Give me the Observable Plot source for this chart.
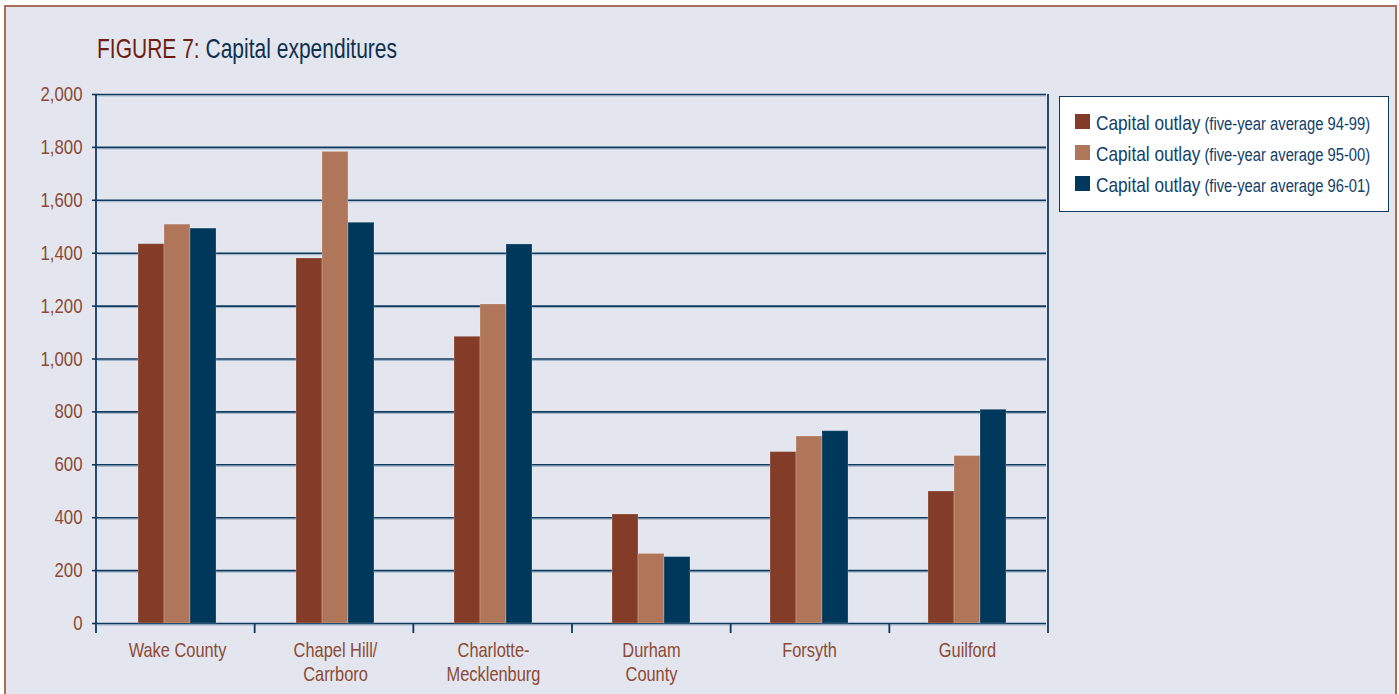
<!DOCTYPE html>
<html>
<head>
<meta charset="utf-8">
<script src="https://cdn.jsdelivr.net/npm/d3@7"></script>
<script src="https://cdn.jsdelivr.net/npm/@observablehq/plot@0.6"></script>
<style>
  html, body { margin: 0; padding: 0; background: #ffffff; overflow: hidden; }
  body { width: 1399px; height: 694px; position: relative;
         font-family: "Liberation Sans", Arial, sans-serif; }
  #panel { position: absolute; left: 4px; top: 5px; width: 1393px; height: 720px;
           background: #e3e6ee; border: 2px solid #a86e57; box-sizing: border-box; }
  #title { position: absolute; left: 97px; top: 35px; font-size: 28px; line-height: 28px;
           color: #10304f; white-space: nowrap; transform: scaleX(0.75); transform-origin: 0 0; }
  #title .fig { color: #6e1e12; }
  #chart { position: absolute; left: 0; top: 80px; }
  #legend { position: absolute; left: 1059px; top: 96px; width: 330px; height: 116px;
            box-sizing: border-box; background: #ffffff; border: 1.5px solid #0e3a5f;
            padding: 17px 0 0 15px; }
  .row { position: relative; height: 31px; color: #10406a; white-space: nowrap; }
  .sw { position: absolute; left: 0; top: 0; width: 15px; height: 15px; }
  .txt { position: absolute; left: 21px; bottom: 12px; line-height: 1;
         transform: scaleX(0.82); transform-origin: 0 100%; }
  .main { font-size: 21px; }
  .sub { font-size: 18px; margin-left: 5px; }
</style>
</head>
<body>
<div id="panel"></div>
<div id="title"><span class="fig">FIGURE 7:</span> Capital expenditures</div>
<div id="chart"></div>
<div id="legend"></div>
<script>
// Counties compared, with their axis labels (line breaks as printed)
const counties = ["Wake County", "Chapel Hill/Carrboro", "Charlotte-Mecklenburg", "Durham County", "Forsyth", "Guilford"];
const countyLabels = ["Wake County", "Chapel Hill/\nCarrboro", "Charlotte-\nMecklenburg", "Durham\nCounty", "Forsyth", "Guilford"];

// Five-year averaging periods
const periods = ["94-99", "95-00", "96-01"];

// Capital outlay, five-year averages, per county
const outlay9499 = [1434, 1380, 1084, 412, 648, 499];
const outlay9500 = [1508, 1783, 1206, 263, 707, 633];
const outlay9601 = [1493, 1515, 1433, 251, 727, 808];

// Value axis ticks
const yTicks = [0, 200, 400, 600, 800, 1000, 1200, 1400, 1600, 1800, 2000];

const periodColors = ["#833c28", "#b07659", "#00385c"];

const seriesValues = [outlay9499, outlay9500, outlay9601];
const rows = [];
counties.forEach((c, i) => {
  periods.forEach((p, j) => rows.push({county: c, period: p, value: seriesValues[j][i]}));
});

const labelOf = new Map(counties.map((c, i) => [c, countyLabels[i]]));

const navy = "#0e3a5f";
const brown = "#8c4a36";
const W = 1060, H = 614;
const narrow = 0.82; // horizontal squeeze giving a condensed face

const plot = Plot.plot({
  width: W,
  height: H,
  marginTop: 14,
  marginLeft: 96,
  marginRight: 12,
  marginBottom: 71,
  style: {
    background: "transparent",
    fontFamily: '"Liberation Sans", Arial, sans-serif',
    fontSize: "20px"
  },
  fx: {domain: counties, padding: 0},
  x: {domain: periods, paddingInner: 0, paddingOuter: 1.47, axis: null},
  y: {domain: [0, 2000]},
  color: {domain: periods, range: periodColors},
  marks: [
    Plot.gridY(yTicks, {stroke: "#9db1c6", strokeOpacity: 1, strokeWidth: 1, dy: 1.5}),
    Plot.gridY(yTicks, {stroke: navy, strokeOpacity: 1, strokeWidth: 1.6}),
    Plot.barY(rows, {
      fx: "county", x: "period", y: "value", fill: "period",
      stroke: "#ffffff", strokeOpacity: 0.22, strokeWidth: 1, inset: 0
    }),
    Plot.axisY({
      ticks: yTicks, tickFormat: d3.format(","), tickSize: 6, tickPadding: 10,
      stroke: navy, strokeWidth: 1.6, fill: brown, fontSize: 20.5, label: null
    }),
    Plot.axisFx({
      anchor: "bottom", tickSize: 0, tickPadding: 16, label: null,
      tickFormat: d => labelOf.get(d), fill: brown, fontSize: 20, lineHeight: 1.22
    })
  ]
});

document.getElementById("chart").appendChild(plot);

const svg = d3.select(plot);

// Condense tick label text around each label's own anchor point
svg.selectAll('g[aria-label$="tick label"] text').each(function() {
  const t = this.getAttribute("transform") || "";
  const x = +this.getAttribute("x") || 0, y = +this.getAttribute("y") || 0;
  this.setAttribute("transform", `${t} translate(${x},${y}) scale(${narrow},1) translate(${-x},${-y})`);
});

// Frame lines and group separator ticks, placed through the plot's own scales
const fxs = plot.scale("fx");
const ys = plot.scale("y");
const band = d3.scaleBand().domain(fxs.domain).range(fxs.range).padding(0);
const y0 = ys.range[0], yTop = ys.range[1];
const tickLen = 10;
const g = svg.append("g").attr("stroke", navy).attr("stroke-width", 1.8);
const edges = fxs.domain.map(d => band(d)).concat([band.range()[1]]);
edges.forEach((x, i) => {
  const full = i === 0 || i === edges.length - 1;
  g.append("line")
    .attr("x1", x).attr("x2", x)
    .attr("y1", full ? yTop : y0)
    .attr("y2", y0 + tickLen);
});

// Legend
const legend = d3.select("#legend");
periods.forEach((p, j) => {
  const row = legend.append("div").attr("class", "row");
  row.append("div").attr("class", "sw").style("background", periodColors[j]);
  const txt = row.append("div").attr("class", "txt");
  txt.append("span").attr("class", "main").text("Capital outlay");
  txt.append("span").attr("class", "sub").text(`(five-year average ${p})`);
});
</script>
</body>
</html>
